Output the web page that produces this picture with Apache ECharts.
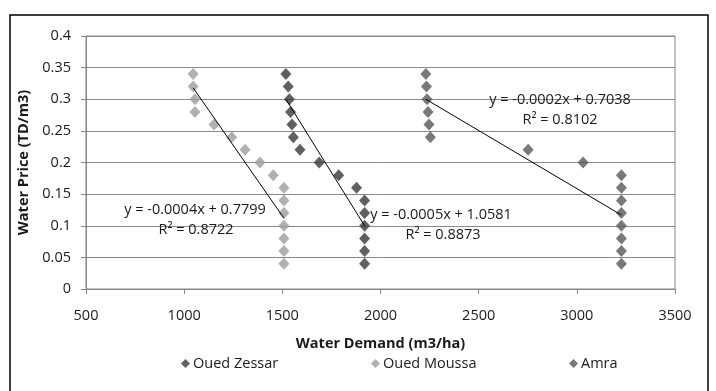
<!DOCTYPE html>
<html><head><meta charset="utf-8">
<script src="https://cdn.jsdelivr.net/npm/echarts@6/dist/echarts.min.js"></script>
<style>html,body{margin:0;padding:0;background:#fff}#c{width:716px;height:391px}</style>
</head><body><div id="c"></div>
<script>
const seriesNames = ['Oued Zessar', 'Oued Moussa', 'Amra'];
const zessarX = [1518, 1530, 1536, 1542, 1549, 1556, 1590, 1688, 1787, 1878, 1919, 1919, 1919, 1919, 1919, 1919];
const zessarY = [0.34, 0.32, 0.30, 0.28, 0.26, 0.24, 0.22, 0.20, 0.18, 0.16, 0.14, 0.12, 0.10, 0.08, 0.06, 0.04];
const moussaX = [1046, 1046, 1055, 1055, 1152, 1242, 1310, 1386, 1454, 1508, 1508, 1508, 1508, 1508, 1508, 1508];
const moussaY = [0.34, 0.32, 0.30, 0.28, 0.26, 0.24, 0.22, 0.20, 0.18, 0.16, 0.14, 0.12, 0.10, 0.08, 0.06, 0.04];
const amraX = [2231, 2234, 2237, 2242, 2247, 2254, 2752, 3032, 3227, 3227, 3227, 3227, 3227, 3227, 3227, 3227];
const amraY = [0.34, 0.32, 0.30, 0.28, 0.26, 0.24, 0.22, 0.20, 0.18, 0.16, 0.14, 0.12, 0.10, 0.08, 0.06, 0.04];
// trendline endpoints
const zessarTrendX = [1518, 1919];
const zessarTrendY = [0.300, 0.100];
const moussaTrendX = [1046, 1508];
const moussaTrendY = [0.318, 0.112];
const amraTrendX = [2231, 3227];
const amraTrendY = [0.300, 0.117];
const equations = ['y = -0.0005x + 1.0581', 'y = -0.0004x + 0.7799', 'y = -0.0002x + 0.7038'];
const r2Texts = ['R² = 0.8873', 'R² = 0.8722', 'R² = 0.8102'];
const xTicks = {min: 500, max: 3500, interval: 500};
const yTicks = {min: 0, max: 0.4, interval: 0.05};
const xTitle = 'Water Demand (m3/ha)';
const yTitle = 'Water Price (TD/m3)';

const colors = ['#383838', '#9c9c9c', '#585858'];
const FONT = 'Open Sans';
const FS = 14.5;
const zip = (a, b) => a.map((v, i) => [v, b[i]]);

const chart = echarts.init(document.getElementById('c'), null, {renderer: 'canvas'});

function scatter(name, xs, ys, color) {
  return {name, type: 'scatter', data: zip(xs, ys), symbol: 'diamond', symbolSize: [11, 12],
    itemStyle: {color}, z: 3, animation: false};
}
function trend(xs, ys) {
  return {type: 'line', data: zip(xs, ys), symbol: 'none', lineStyle: {color: '#000', width: 1},
    z: 4, animation: false, silent: true};
}
function eqText(txt, cx, cy) {
  return {type: 'text', x: cx, y: cy, z: 10,
    style: {text: txt, font: FS + 'px "' + FONT + '"', fill: '#1a1a1a', align: 'center', verticalAlign: 'middle'}};
}
function legend(name, left) {
  return {data: [name], left, top: 351, icon: 'diamond', itemWidth: 9, itemHeight: 9, itemGap: 4,
    textStyle: {fontFamily: FONT, fontSize: FS, color: '#1a1a1a', padding: [0, 0, 0, -2]}, selectedMode: false};
}

chart.setOption({
  animation: false,
  textStyle: {fontFamily: FONT},
  grid: {left: 86, right: 41, top: 36, bottom: 102, show: true, borderColor: '#868686', borderWidth: 1},
  xAxis: {type: 'value', min: xTicks.min, max: xTicks.max, interval: xTicks.interval,
    name: xTitle, nameLocation: 'middle', nameGap: 47,
    nameTextStyle: {fontFamily: FONT, fontSize: FS, fontWeight: 'bold', color: '#1a1a1a'},
    axisLine: {lineStyle: {color: '#868686'}}, axisTick: {show: true, length: 5, lineStyle: {color: '#868686'}},
    axisLabel: {fontFamily: FONT, fontSize: FS, color: '#1a1a1a', margin: 19, formatter: v => String(v)},
    splitLine: {show: false}},
  yAxis: {type: 'value', min: yTicks.min, max: yTicks.max, interval: yTicks.interval,
    name: yTitle, nameLocation: 'middle', nameGap: 45, nameRotate: 90,
    nameTextStyle: {fontFamily: FONT, fontSize: FS, fontWeight: 'bold', color: '#1a1a1a'},
    axisLine: {show: true, lineStyle: {color: '#868686'}}, axisTick: {show: true, length: 5, lineStyle: {color: '#868686'}},
    axisLabel: {fontFamily: FONT, fontSize: FS, color: '#1a1a1a', margin: 15},
    splitLine: {show: true, lineStyle: {color: '#8a8a8a', width: 1}}},
  legend: [legend(seriesNames[0], 176), legend(seriesNames[1], 366), legend(seriesNames[2], 564)],
  series: [
    scatter(seriesNames[0], zessarX, zessarY, colors[0]),
    scatter(seriesNames[1], moussaX, moussaY, colors[1]),
    scatter(seriesNames[2], amraX, amraY, colors[2]),
    trend(zessarTrendX, zessarTrendY),
    trend(moussaTrendX, moussaTrendY),
    trend(amraTrendX, amraTrendY)
  ],
  graphic: [
    {type: 'rect', shape: {x: 10, y: 15, width: 698, height: 400}, style: {fill: 'none', stroke: '#000', lineWidth: 1.5}, z: 0, silent: true},
    eqText(equations[1], 195, 210), eqText(r2Texts[1], 196, 230),
    eqText(equations[0], 441, 215), eqText(r2Texts[0], 443, 235),
    eqText(equations[2], 560, 100), eqText(r2Texts[2], 560, 120)
  ]
});
</script></body></html>
